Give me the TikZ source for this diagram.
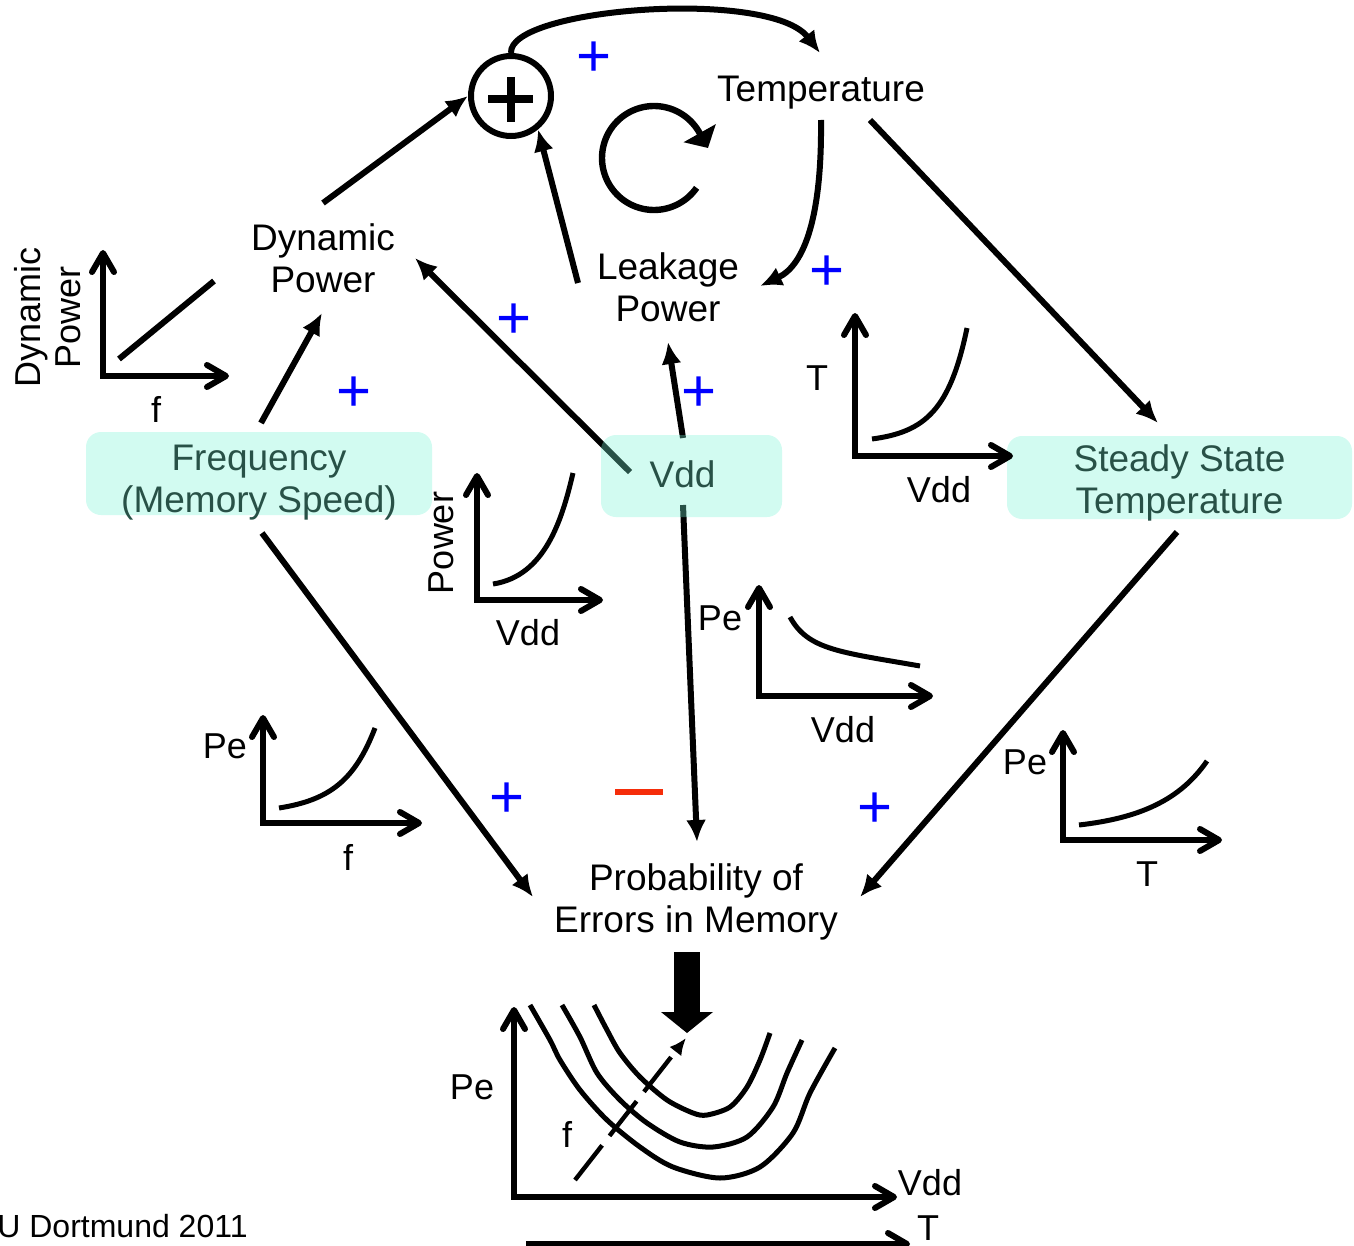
\documentclass[tikz,border=0pt]{standalone}
\usepackage{fontspec}
\setmainfont{Liberation Sans}
\usetikzlibrary{arrows.meta}
\definecolor{boxfill}{RGB}{120,243,213}
\definecolor{boxtext}{RGB}{40,81,71}
\definecolor{plusblue}{RGB}{0,0,255}
\definecolor{minusred}{RGB}{245,45,10}
\pgfdeclarelayer{background}
\pgfsetlayers{background,main}
% two centred lines whose baseline is the first line
\newcommand{\stackedtext}[2]{\begin{tabular}[t]{@{}c@{}}#1\\#2\end{tabular}}

\begin{document}
\begin{tikzpicture}[x=0.5pt, y=-0.5pt,
  conn/.style={line width=3pt, -{Latex[length=11pt,width=10pt]}},
  axes/.style={line width=3pt, line join=miter,
    {Straight Barb[round,length=9.5pt,width=11pt]}-{Straight Barb[round,length=9.5pt,width=11pt]}},
  trend/.style={line width=2.5pt},
  mainlbl/.style={font=\fontsize{18.5}{21}\selectfont, anchor=base, inner sep=0pt},
  lbl/.style={font=\fontsize{18}{20}\selectfont, anchor=base, inner sep=0pt},
  plusnode/.style={text=plusblue, font=\fontsize{30}{30}\selectfont, inner sep=0pt},
  boxnode/.style={rounded corners=7.5pt, fill=boxfill, fill opacity=0.333,
    text opacity=1, text=boxtext, inner sep=0pt, anchor=base,
    font=\fontsize{18.5}{21}\selectfont}]

\useasboundingbox (0,0) rectangle (1354,1246);
\clip (0,0) rectangle (1354,1246);

% ---------- summing junction ----------
\node[draw, circle, minimum size=40pt, inner sep=0pt, line width=3pt] (sum) at (511,96) {};
\draw[line width=4.2pt] ([shift={(-23,3)}]sum.center) -- ([shift={(22,3)}]sum.center)
  ([shift={(0,-19)}]sum.center) -- ([shift={(0,26)}]sum.center);

% ---------- quantities ----------
\node[mainlbl] (temp) at (821,102) {Temperature};
\node[mainlbl] (lp) at (668,279) {\stackedtext{Leakage}{Power}};
\node[mainlbl] (dp) at (323,250) {\stackedtext{Dynamic}{Power}};
\node[mainlbl] (prob) at (696,890) {\stackedtext{Probability of}{Errors in Memory}};

\node[boxnode, minimum width=173pt, text height=19pt, text depth=22.5pt]
  (freq) at (259,470) {\stackedtext{Frequency}{(Memory Speed)}};
\node[boxnode, minimum width=90.5pt, text height=26pt, text depth=15pt]
  (vdd) at (691.5,487) {Vdd\hspace*{9pt}};
\node[boxnode, minimum width=172.5pt, text height=17.5pt, text depth=24pt]
  (sst) at (1179.5,471) {\stackedtext{Steady State}{Temperature}};

% ---------- signs ----------
\node[plusnode] (p1) at (594,59) {+};
\node[plusnode] (p2) at (514,321) {+};
\node[plusnode] (p3) at (354,394) {+};
\node[plusnode] (p4) at (699,394) {+};
\node[plusnode] (p5) at (827,273) {+};
\node[plusnode] (p6) at (507,800) {+};
\node[plusnode] (p7) at (875,810) {+};
\node[text=minusred, inner sep=0pt] (mneg) at (639,792) {\rule{24pt}{3.3pt}};

% ---------- feedback loop symbol ----------
\draw[line width=3.2pt, -{Triangle[length=8.5pt,width=18pt]}]
  plot[domain=-35:-329, samples=80] ({654+52*cos(\x)},{158-52*sin(\x)}) -- (708,148);

% ---------- small characteristic plots ----------
% dynamic power vs f
\draw[axes] (103,250) -- (103,376) -- (229,376);
\draw[line width=3pt] (119,359) -- (214,281);
\node[lbl, rotate=90] (gAy) at (40,317.5) {\stackedtext{Dynamic}{Power}};
\node[lbl] (gAx) at (156,422) {f};

% T vs Vdd
\draw[axes] (855,313) -- (855,456) -- (1013,456);
\draw[trend] (872,439) .. controls (925,432) and (950,410) .. (967,328);
\node[lbl] (gBy) at (817,390) {T};
\node[lbl] (gBx) at (939,502) {Vdd};

% power vs Vdd
\draw[axes] (477,473) -- (477,600) -- (603,600);
\draw[trend] (493,584) .. controls (545,576) and (562,520) .. (573,473);
\node[lbl, rotate=90] (gCy) at (453,543) {Power};
\node[lbl] (gCx) at (528,645) {Vdd};

% Pe vs Vdd
\draw[axes] (759,585) -- (759,696) -- (933,696);
\draw[trend] (790,617) .. controls (808,650) and (840,652) .. (920,666);
\node[lbl] (gDy) at (720,630) {Pe};
\node[lbl] (gDx) at (843,742) {Vdd};

% Pe vs f
\draw[axes] (263,715) -- (263,823) -- (422,823);
\draw[trend] (279,808) .. controls (330,800) and (355,780) .. (375,728);
\node[lbl] (gEy) at (225,758) {Pe};
\node[lbl] (gEx) at (348,870) {f};

% Pe vs T
\draw[axes] (1063,730) -- (1063,840) -- (1222,840);
\draw[trend] (1079,825) .. controls (1140,818) and (1180,800) .. (1207,761);
\node[lbl] (gFy) at (1025,774) {Pe};
\node[lbl] (gFx) at (1147,886) {T};

% ---------- combined error plot ----------
\draw[axes] (514,1007) -- (514,1197) -- (897,1197);
\draw[line width=3pt, -{Straight Barb[round,length=9.5pt,width=11pt]}] (526,1244) -- (910,1244);
\draw[trend] plot[smooth] coordinates {(530,1005) (550,1040) (560,1060) (580,1090) (607,1120)
  (640,1147) (673,1167) (720,1178) (760,1167) (793,1133) (810,1093) (835,1048)};
\draw[trend] plot[smooth] coordinates {(562,1005) (580,1037) (597,1073) (620,1100) (647,1123)
  (680,1142) (713,1147) (747,1137) (773,1107) (787,1073) (802,1040)};
\draw[trend] plot[smooth] coordinates {(594,1005) (607,1030) (620,1053) (640,1077) (667,1100)
  (693,1113) (707,1115) (730,1107) (747,1087) (760,1060) (770,1033)};
\coordinate (fdir) at (686,1038);
\draw[line width=2.2pt, dash pattern=on 22pt off 6pt, -{Latex[length=8.5pt,width=7.5pt]}] (575,1180) -- (fdir);
\node[lbl] (gGy) at (472,1099) {Pe};
\node[lbl] (gGx) at (930,1195) {Vdd};
\node[lbl] (gGt) at (928,1240) {T};
\node[lbl] (gGf) at (567,1147) {f};

% block arrow from the error probability into its plot
\coordinate (chartin) at (687,1033);
\draw[line width=13pt, -{Triangle[length=10.5pt,width=26pt,line width=0pt]}]
  ([shift={(-9,62)}]prob.base) -- (chartin);

\node[font=\fontsize{16}{18}\selectfont, anchor=base west, inner sep=0pt] (credit) at (-3,1237) {U Dortmund 2011};

% ---------- influence connectors ----------
\begin{pgfonlayer}{background}
\draw[conn] ([shift={(0,-47)}]dp.base) -- (sum.west);
\draw[conn] ([shift={(-90,4)}]lp.base) -- (sum.-51);
\draw[conn] ([shift={(-61.5,-15)}]vdd.base) -- ([shift={(92,8)}]dp.base);
\draw[conn] ([shift={(2,-47)}]freq.base) -- ([shift={(-1,63)}]dp.base);
\draw[conn] ([shift={(-8.5,-49)}]vdd.base) -- ([shift={(0,63)}]lp.base);
\draw[conn] ([shift={(-8.5,18)}]vdd.base) -- ([shift={(1,-48)}]prob.base);
\draw[conn] ([shift={(0,18)}]temp.base) .. controls (822,215) and (805,265) .. ([shift={(92,7)}]lp.base);
\draw[conn] ([shift={(49,18)}]temp.base) -- ([shift={(-21.5,-48)}]sst.base);
\draw[conn] (sum.north) .. controls (508,8) and (770,-12) .. ([shift={(-1,-49)}]temp.base);
\draw[conn] ([shift={(3,63)}]freq.base) -- ([shift={(-163,7)}]prob.base);
\draw[conn] ([shift={(-2.5,61)}]sst.base) -- ([shift={(164,7)}]prob.base);
\end{pgfonlayer}
\end{tikzpicture}
\end{document}
